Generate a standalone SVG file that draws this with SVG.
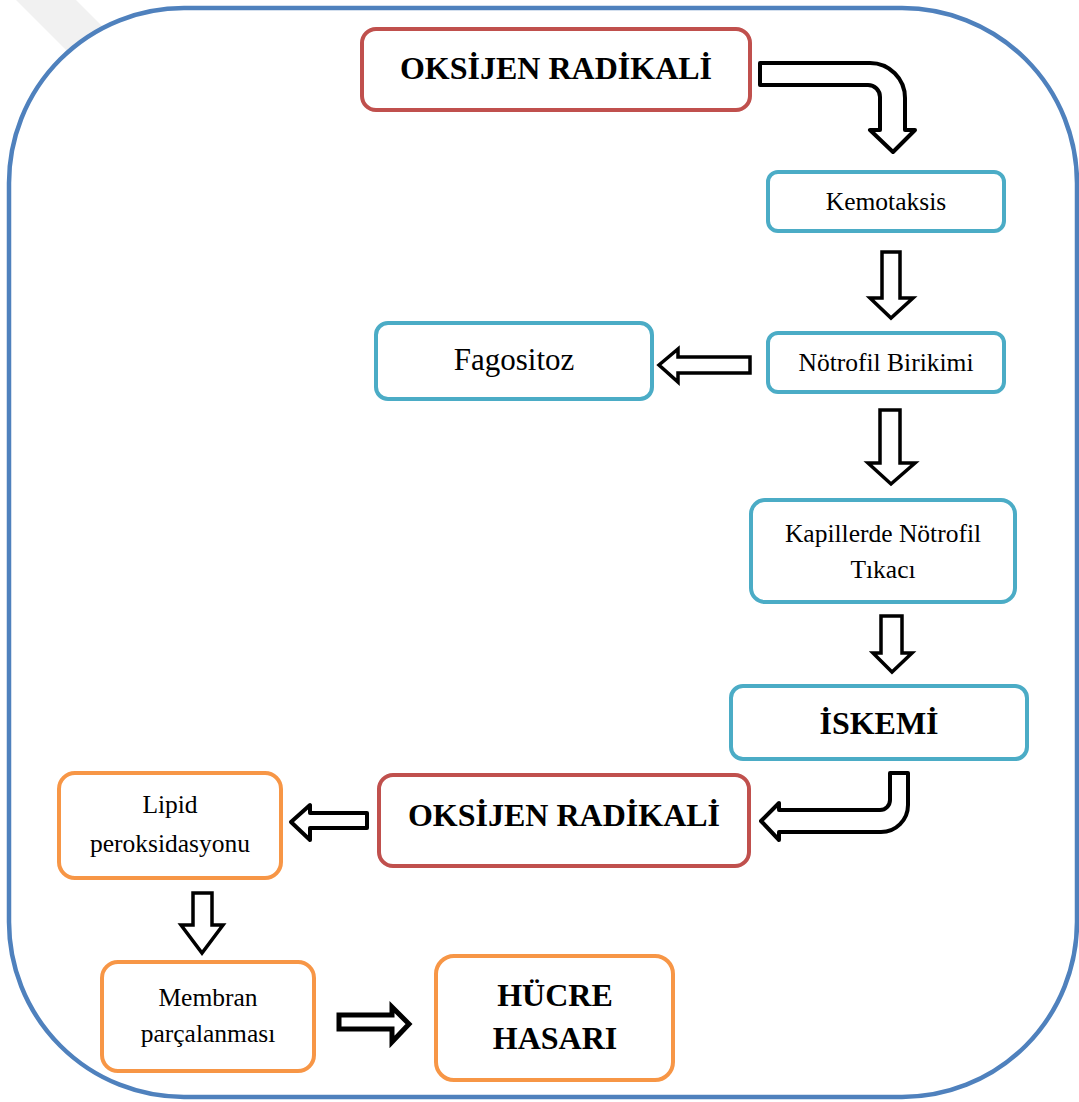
<svg xmlns="http://www.w3.org/2000/svg" width="1079" height="1102" viewBox="0 0 1079 1102">
  <style>
    .frame { fill: #fff; stroke: #4F81BD; stroke-width: 4.5; }
    .red { fill: #fff; stroke: #C0504D; stroke-width: 4; }
    .blue { fill: #fff; stroke: #4BACC6; stroke-width: 4; }
    .orange { fill: #fff; stroke: #F79646; stroke-width: 4; }
    .t { font-family: "Liberation Serif", "Times New Roman", serif; fill: #000; text-anchor: middle; }
    .b { font-weight: bold; }
    .s { font-size: 25.5px; }
    .h { font-size: 32px; }
    .arr { fill: #fff; stroke: #000; stroke-width: 4; stroke-linejoin: round; }
    .arrm { fill: #fff; stroke: #000; stroke-width: 3.5; stroke-linejoin: miter; }
  </style>

  <!-- faint diagonal band in the top-left corner -->
  <polygon points="16,0 76,0 150,74 90,74" fill="#f1f1f1"/>

  <!-- outer frame -->
  <rect class="frame" x="9" y="8" width="1068" height="1089" rx="175" ry="175"/>

  <g id="connectors">
    <!-- OKSİJEN RADİKALİ to Kemotaksis (bent) -->
    <path class="arr" d="M760,63 L870,63 A35,35 0 0 1 905,98 L905,130 L915,130 L893,152 L870,130 L880,130 L880,97 A12,12 0 0 0 868,85 L760,85 Z"/>
    <!-- Kemotaksis to Nötrofil Birikimi -->
    <path class="arrm" d="M882,252 L900,252 L900,298 L913,298 L891,318 L870,298 L882,298 Z"/>
    <!-- Nötrofil Birikimi to Fagositoz -->
    <path class="arrm" d="M750,357 L750,373 L678,373 L678,382 L659,365 L678,349 L678,357 Z"/>
    <!-- Nötrofil Birikimi to Kapillerde -->
    <path class="arrm" d="M880,410 L900,410 L900,463 L915,463 L891,484 L868,463 L880,463 Z"/>
    <!-- Kapillerde to İSKEMİ -->
    <path class="arrm" d="M881,616 L902,616 L902,653 L912,653 L892,672 L873,653 L881,653 Z"/>
    <!-- İSKEMİ to OKSİJEN RADİKALİ (bent) -->
    <path class="arr" d="M890,773 L908,773 L908,805 A27,27 0 0 1 881,832 L779,832 L779,840 L761,821 L779,803 L779,810 L880,810 A10,10 0 0 0 890,800 Z"/>
    <!-- OKSİJEN RADİKALİ to Lipid peroksidasyonu -->
    <path class="arr" d="M367,813 L367,828 L310,828 L310,840 L291,822 L310,805 L310,813 Z"/>
    <!-- Lipid peroksidasyonu to Membran parçalanması -->
    <path class="arrm" d="M193,893 L212,893 L212,925 L223,925 L202,953 L181,925 L193,925 Z"/>
    <!-- Membran parçalanması to HÜCRE HASARI -->
    <path class="arrm" style="stroke-width:5" d="M339,1015 L392,1015 L392,1007 L409,1024 L392,1042 L392,1029 L339,1029 Z"/>
  </g>

  <g id="oksijen-top">
    <rect class="red" x="362" y="29" width="388" height="81" rx="14"/>
    <text class="t b h" x="556" y="79">OKSİJEN RADİKALİ</text>
  </g>

  <g id="kemotaksis">
    <rect class="blue" x="768" y="172" width="236" height="59" rx="10"/>
    <text class="t s" x="886" y="210">Kemotaksis</text>
  </g>

  <g id="fagositoz">
    <rect class="blue" x="376" y="323" width="276" height="76" rx="12"/>
    <text class="t" x="514" y="370" font-size="31">Fagositoz</text>
  </g>

  <g id="notrofil-birikimi">
    <rect class="blue" x="768" y="333" width="236" height="59" rx="10"/>
    <text class="t s" x="886" y="371">Nötrofil Birikimi</text>
  </g>

  <g id="kapillerde">
    <rect class="blue" x="751" y="500" width="264" height="102" rx="14"/>
    <text class="t s" x="883" y="542">Kapillerde Nötrofil</text>
    <text class="t s" x="883" y="578">Tıkacı</text>
  </g>

  <g id="iskemi">
    <rect class="blue" x="731" y="686" width="296" height="73" rx="12"/>
    <text class="t b h" x="879" y="734">İSKEMİ</text>
  </g>

  <g id="oksijen-bottom">
    <rect class="red" x="379" y="775" width="370" height="91" rx="14"/>
    <text class="t b h" x="564" y="826">OKSİJEN RADİKALİ</text>
  </g>

  <g id="lipid">
    <rect class="orange" x="59" y="773" width="222" height="105" rx="16"/>
    <text class="t s" x="170" y="813">Lipid</text>
    <text class="t s" x="170" y="852">peroksidasyonu</text>
  </g>

  <g id="membran">
    <rect class="orange" x="102" y="962" width="212" height="109" rx="16"/>
    <text class="t s" x="208" y="1006">Membran</text>
    <text class="t s" x="208" y="1042">parçalanması</text>
  </g>

  <g id="hucre-hasari">
    <rect class="orange" x="436" y="956" width="237" height="124" rx="18"/>
    <text class="t b h" x="555" y="1006">HÜCRE</text>
    <text class="t b h" x="555" y="1049">HASARI</text>
  </g>
</svg>
